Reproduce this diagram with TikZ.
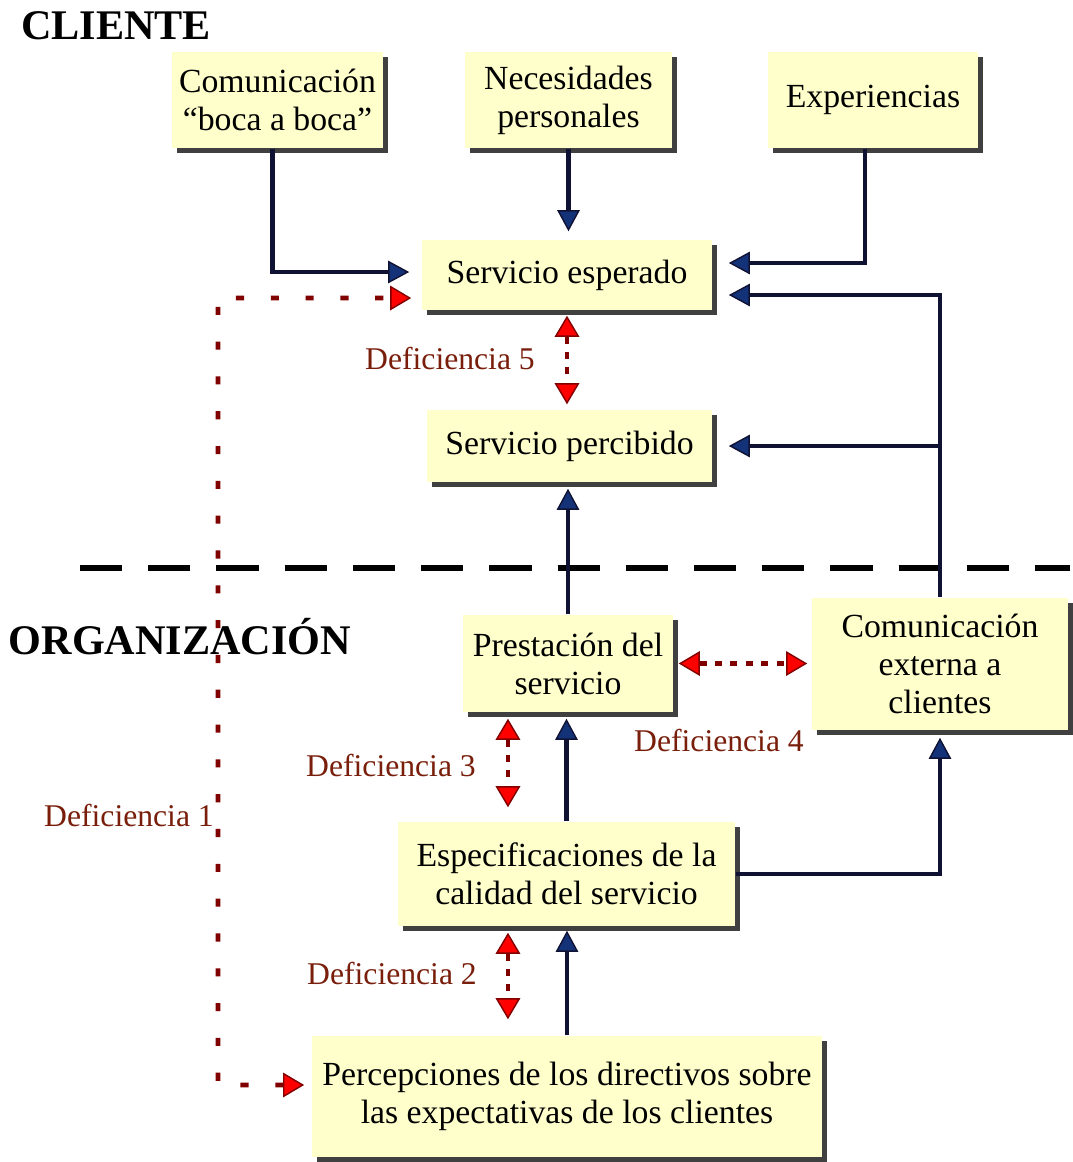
\documentclass[tikz,border=0pt]{standalone}
\usepackage{fontspec}
\setmainfont{Liberation Serif}
\usetikzlibrary{arrows.meta,shadows}
\definecolor{boxYellow}{RGB}{255,255,204}
\definecolor{navyLine}{RGB}{16,18,52}
\definecolor{navyHead}{RGB}{20,50,120}
\definecolor{gapRed}{RGB}{128,0,0}
\definecolor{gapText}{RGB}{120,30,10}
\begin{document}
\begin{tikzpicture}[x=0.01cm,y=-0.01cm,font=\fontsize{9.6}{10.8}\selectfont,
stage/.style={fill=boxYellow,align=center,inner sep=1pt,
  drop shadow={shadow xshift=0.05cm,shadow yshift=-0.05cm,opacity=1,fill=black!75}},
flowArrow/.style={draw=navyLine,line width=1.4pt,
  -{Triangle[length=6pt,width=6.4pt,line width=0.4pt,fill=navyHead]}},
gapArrow/.style={draw=gapRed,line width=1.4pt,dash pattern=on 2pt off 2.4pt,
  {Triangle[length=6pt,width=7pt,line width=0.4pt,fill=red]}-{Triangle[length=6pt,width=7pt,line width=0.4pt,fill=red]}},
gapLabel/.style={text=gapText,font=\fontsize{9}{10}\selectfont},
sideTitle/.style={font=\bfseries\fontsize{12}{14}\selectfont},
divider/.style={draw=black,line width=1.5pt,dash pattern=on 12pt off 7.4pt}]
\path[use as bounding box] (0,0) rectangle (1073,1162);
% cliente side
\node[sideTitle] (cliente) at (116,26) {CLIENTE};
\node[stage,minimum width=2.11cm,minimum height=0.96cm] (boca) at (277.5,100) {Comunicación\\“boca a boca”};
\node[stage,minimum width=2.07cm,minimum height=0.96cm] (necesidades) at (568.5,100) {Necesidades\\personales};
\node[stage,minimum width=2.10cm,minimum height=0.96cm] (experiencias) at (873,100) {Experiencias};
\node[stage,minimum width=2.90cm,minimum height=0.70cm] (esperado) at (567,275) {Servicio esperado};
\node[stage,minimum width=2.85cm,minimum height=0.72cm] (percibido) at (569.5,446) {Servicio percibido};
% organizacion side
\coordinate (divL) at (80,568);
\coordinate (divR) at (1070,568);
\draw[divider] (divL) -- (divR);
\node[sideTitle] (organizacion) at (180,637) {ORGANIZACIÓN};
\node[stage,minimum width=2.10cm,minimum height=0.97cm] (prestacion) at (568,663.5) {Prestación del\\servicio};
\node[stage,minimum width=2.56cm,minimum height=1.32cm] (comext) at (940,664) {Comunicación\\externa a\\clientes};
\node[stage,minimum width=3.37cm,minimum height=1.04cm] (especif) at (566.5,874) {Especificaciones de la\\calidad del servicio};
\node[stage,minimum width=5.10cm,minimum height=1.21cm] (percep) at (567,1096.5) {Percepciones de los directivos sobre\\las expectativas de los clientes};
% flows
\draw[flowArrow,shorten >=0.12cm] ([xshift=-0.05cm]boca.south) |- ([yshift=0.03cm]esperado.west);
\draw[flowArrow,shorten >=0.08cm] (necesidades.south) -- (necesidades.south |- esperado.north);
\draw[flowArrow,shorten >=0.16cm] ([xshift=-0.08cm]experiencias.south) |- ([yshift=0.12cm]esperado.east);
\draw[flowArrow,shorten >=0.16cm] (comext.north) |- ([yshift=-0.2cm]esperado.east);
\coordinate (branch) at (comext.north |- percibido.east);
\draw[flowArrow,shorten >=0.16cm] (branch) -- (percibido.east);
\draw[flowArrow,shorten >=0.06cm] (prestacion.north) -- (prestacion.north |- percibido.south);
\draw[flowArrow,shorten >=0.06cm] (especif.north) -- (especif.north |- prestacion.south);
\draw[flowArrow,shorten >=0.07cm] (especif.east) -| (comext.south);
\draw[flowArrow,shorten >=0.04cm] (percep.north) -- (percep.north |- especif.south);
% deficiencias
\draw[gapArrow,shorten <=0.05cm,shorten >=0.05cm] (esperado.south) -- (esperado.south |- percibido.north);
\node[gapLabel] (def5) at (450,358) {Deficiencia 5};
\draw[gapArrow,shorten <=0.05cm,shorten >=0.04cm] (prestacion.east) -- (prestacion.east -| comext.west);
\node[gapLabel] (def4) at (719,740) {Deficiencia 4};
\draw[gapArrow,shorten <=0.06cm,shorten >=0.14cm] ([xshift=-0.6cm]prestacion.south) -- ([xshift=-0.6cm]prestacion.south |- especif.north);
\node[gapLabel] (def3) at (391,765) {Deficiencia 3};
\draw[gapArrow,shorten <=0.06cm,shorten >=0.16cm] ([xshift=-0.585cm]especif.south) -- ([xshift=-0.585cm]especif.south |- percep.north);
\node[gapLabel] (def2) at (392,973) {Deficiencia 2};
\coordinate (gapCorner) at (218,1085);
\draw[gapArrow,dash pattern=on 2.3pt off 7.6pt,shorten <=0.07cm,shorten >=0.1cm] ([yshift=0.115cm]percep.west) -- (gapCorner) |- ([yshift=-0.23cm]esperado.west);
\node[gapLabel] (def1) at (129,815) {Deficiencia 1};
\end{tikzpicture}
\end{document}
